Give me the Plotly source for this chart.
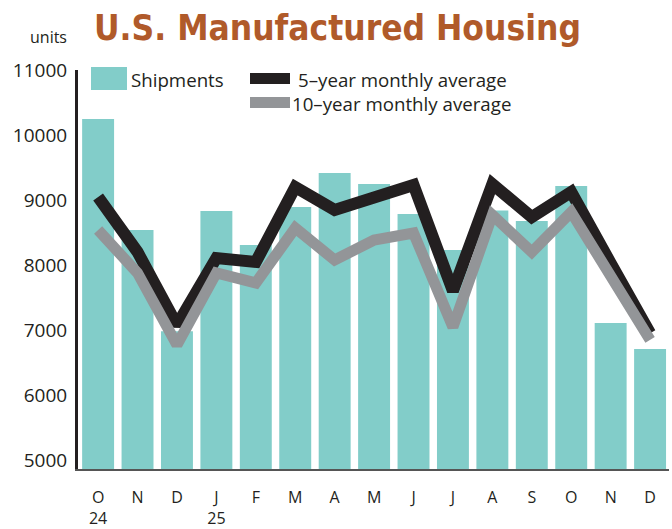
import plotly.graph_objects as go

months = ["O<br>24", "N", "D", "J<br>25", "F", "M", "A", "M", "J", "J", "A", "S", "O", "N", "D"]
shipments = [10258, 8550, 6990, 8842, 8319, 8904, 9427, 9257, 8796, 8242, 8850, 8688, 9227, 7118, 6718]
avg5 = [9057, 8211, 7087, 8118, 8057, 9211, 8857, 9057, 9242, 7611, 9257, 8749, 9134, 8040, 6960]
avg10 = [8550, 7888, 6780, 7888, 7734, 8580, 8088, 8395, 8503, 7056, 8780, 8211, 8826, 7800, 6857]
y_ticks = [5000, 6000, 7000, 8000, 9000, 10000, 11000]

x = list(range(len(months)))
TEAL = "#82cdc9"
BLACK = "#231f20"
GRAY = "#939598"
FONT = "Open Sans, sans-serif"

fig = go.Figure()
fig.add_trace(go.Bar(x=x, y=shipments, marker=dict(color=TEAL, line=dict(width=0)),
                     name="Shipments", showlegend=False))
fig.add_trace(go.Scatter(x=x, y=avg5, mode="lines", line=dict(color=BLACK, width=12),
                         name="5–year monthly average", showlegend=False))
fig.add_trace(go.Scatter(x=x, y=avg10, mode="lines", line=dict(color=GRAY, width=11),
                         name="10–year monthly average", showlegend=False))

fig.update_layout(
    width=672, height=529, autosize=False,
    margin=dict(l=78, r=3, t=70, b=60),
    paper_bgcolor="white", plot_bgcolor="white",
    bargap=0.19,
    font=dict(family=FONT, color=BLACK),
    xaxis=dict(range=[-0.51, 14.48], tickmode="array", tickvals=x, ticktext=months,
               showgrid=False, zeroline=False, showline=True, linecolor="#555555", linewidth=2,
               ticks="", ticklabelstandoff=13, tickfont=dict(size=16, color=BLACK, family=FONT),
               automargin=False, fixedrange=True),
    yaxis=dict(range=[4870, 11013], tickmode="array", tickvals=y_ticks, tickformat="d",
               showgrid=False, zeroline=False, showline=True, linecolor=BLACK, linewidth=3,
               ticks="", ticklabelstandoff=4, tickfont=dict(size=19, color=BLACK, family=FONT),
               automargin=False, fixedrange=True),
    showlegend=False,
)

def px_x(p):
    return (p - 78) / 591.0

def px_y(p):
    return (469 - p) / 399.0

shapes = [
    dict(type="rect", xref="paper", yref="paper", x0=px_x(91), x1=px_x(127), y0=px_y(90), y1=px_y(67),
         fillcolor=TEAL, line=dict(width=0)),
    dict(type="rect", xref="paper", yref="paper", x0=px_x(250), x1=px_x(290), y0=px_y(84), y1=px_y(73),
         fillcolor=BLACK, line=dict(width=0)),
    dict(type="rect", xref="paper", yref="paper", x0=px_x(250), x1=px_x(290), y0=px_y(108), y1=px_y(97),
         fillcolor=GRAY, line=dict(width=0)),
]
fig.update_layout(shapes=shapes)

ann = [
    dict(text="Shipments", x=px_x(129), y=px_y(79)),
    dict(text="5–year monthly average", x=px_x(296), y=px_y(79)),
    dict(text="10–year monthly average", x=px_x(290), y=px_y(103)),
]
for a in ann:
    fig.add_annotation(text=a["text"], x=a["x"], y=a["y"], xref="paper", yref="paper",
                       xanchor="left", yanchor="middle", showarrow=False,
                       font=dict(size=18.7, color=BLACK, family=FONT))
fig.add_annotation(text="units", x=px_x(48), y=px_y(37), xref="paper", yref="paper", showarrow=False,
                   xanchor="center", yanchor="middle", font=dict(size=16, color=BLACK, family=FONT))
fig.add_annotation(text="<b>U.S. Manufactured Housing</b>", x=px_x(337), y=px_y(28),
                   xref="paper", yref="paper", showarrow=False, xanchor="center", yanchor="middle",
                   font=dict(family="DejaVu Sans Condensed, sans-serif", size=35, color="#b05a2a"))

fig.write_html("out.html", config={"displayModeBar": False},
               post_script="document.body.style.margin='0';document.body.style.padding='0';")
